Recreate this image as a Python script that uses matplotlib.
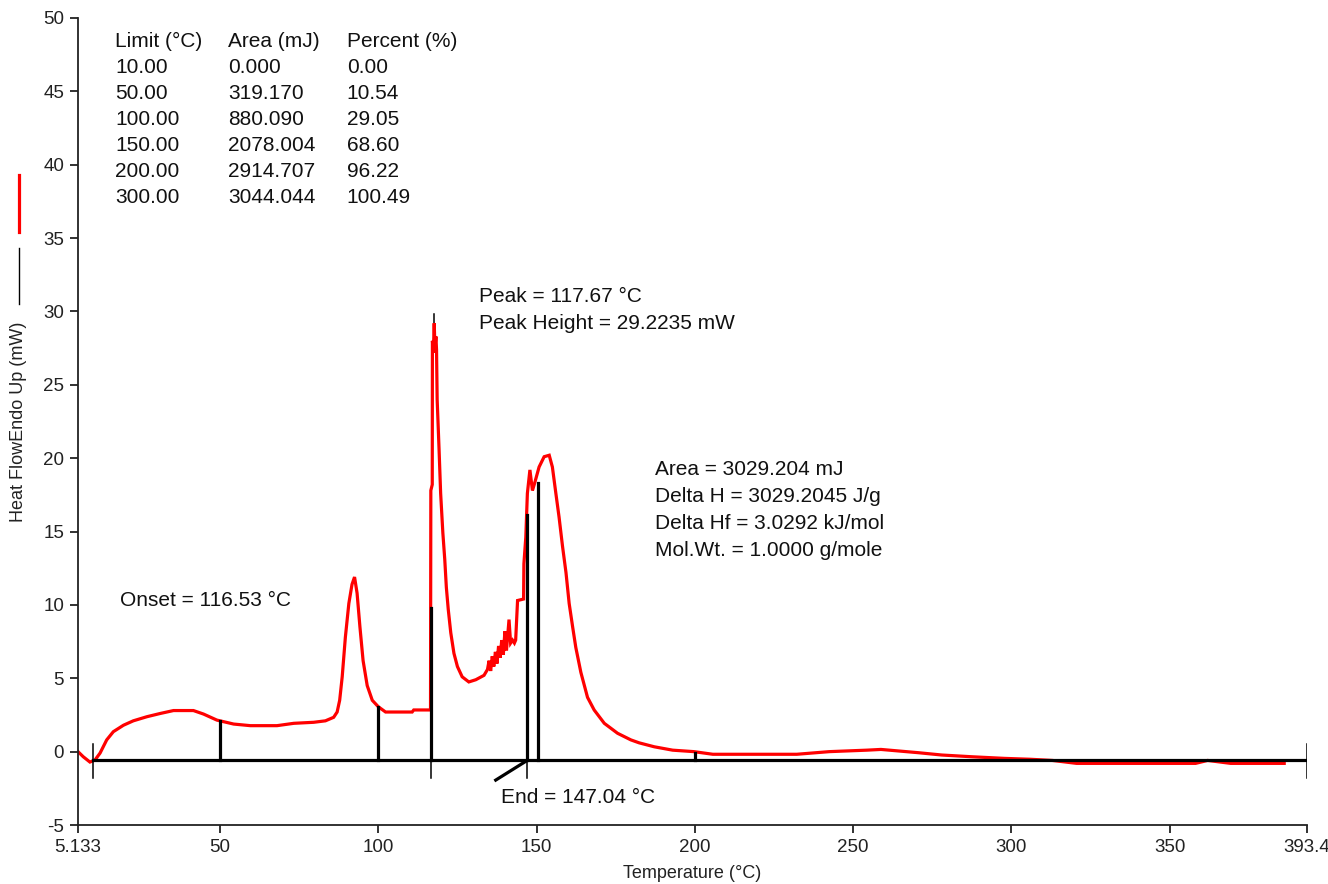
import numpy as np
import matplotlib
matplotlib.use("Agg")
import matplotlib.pyplot as plt
from matplotlib.lines import Line2D

plt.rcParams['font.family'] = ['Liberation Sans', 'DejaVu Sans']
plt.rcParams['axes.unicode_minus'] = False

# heat flow curve (temperature in C, heat flow in mW)
temp = [5.13, 6.8, 8.9, 10.5, 12.1, 14.2, 16.3, 19.5, 22.6, 26.9, 31.1, 35.3, 41.6,
        44.8, 49.0, 54.3, 59.6, 68.0, 73.3, 79.6, 83.3, 85.9, 87.0, 87.8, 88.6,
        89.6, 90.7, 91.7, 92.5, 93.3, 94.2, 95.2, 96.5, 98.1, 100.0, 102.3, 110.7,
        111.2, 116.5, 116.6, 117.05, 117.1, 117.4, 117.67, 117.9, 118.2, 118.4,
        118.6, 119.2, 119.7, 120.4, 121.0, 121.5, 122.1, 122.9, 123.9, 125.0,
        126.5, 128.6, 130.8, 133.4, 134.5, 135.0, 135.5, 136.0, 136.5, 137.0,
        137.5, 138.0, 138.5, 139.0, 139.5, 140.0, 140.5, 141.3, 141.8, 142.4,
        143.0, 143.4, 144.0, 145.9, 146.0, 146.6, 147.1, 147.9, 148.7, 149.4,
        150.8, 152.4, 154.0, 155.0, 156.1, 157.1, 158.2, 159.3, 160.3, 161.4,
        162.4, 164.0, 166.1, 168.2, 171.4, 175.6, 179.8, 182.4, 187.2, 193.0,
        199.7, 205.7, 232.2, 242.5, 254.3, 258.8, 270.5, 278.0, 287.6, 297.9,
        306.0, 313.0, 320.6, 358.2, 362.0, 369.3, 386.2]
heat = [0.0, -0.35, -0.71, -0.57, -0.1, 0.8, 1.36, 1.8, 2.1, 2.38, 2.6, 2.8, 2.8,
        2.56, 2.15, 1.88, 1.77, 1.77, 1.93, 2.0, 2.1, 2.34, 2.7, 3.5, 5.1,
        7.8, 10.1, 11.4, 11.9, 10.8, 8.5, 6.2, 4.5, 3.5, 3.06, 2.7, 2.7,
        2.84, 2.84, 17.8, 18.2, 28.0, 27.2, 29.2, 27.5, 28.3, 27.4,
        24.0, 20.6, 17.6, 14.9, 13.1, 11.2, 9.7, 8.1, 6.7, 5.8,
        5.1, 4.75, 4.9, 5.2, 5.6, 6.2, 5.5, 6.5, 5.8, 6.8,
        6.0, 7.2, 6.4, 7.6, 6.6, 8.2, 6.9, 9.0, 7.4, 7.6,
        7.4, 7.6, 10.3, 10.4, 12.8, 14.6, 17.6, 19.2, 17.8, 18.3,
        19.4, 20.1, 20.2, 19.4, 17.6, 16.0, 14.0, 12.2, 10.1, 8.5,
        7.1, 5.4, 3.7, 2.84, 1.93, 1.25, 0.8, 0.6, 0.33, 0.1,
        0.0, -0.18, -0.18, 0.0, 0.1, 0.15, -0.07, -0.23, -0.35, -0.46,
        -0.52, -0.6, -0.8, -0.8, -0.6, -0.8, -0.8]

baseline_x = [10.0, 393.4]
baseline_y = -0.6

# partial-area limits and onset/end markers with the curve height they reach
divider_x = [50.0, 100.0, 116.53, 147.04, 150.3, 200.0]
divider_top = [2.1, 3.06, 9.8, 16.1, 18.3, -0.1]
crossing_ticks = [10.0, 116.53, 393.4]
end_tick = 147.04
end_tangent_x = [137.1, 147.04]
end_tangent_y = [-1.94, -0.6]
peak_x, peak_top = 117.67, 29.8

limit_col = ["Limit (°C)", "10.00", "50.00", "100.00", "150.00", "200.00", "300.00"]
area_col = ["Area (mJ)", "0.000", "319.170", "880.090", "2078.004", "2914.707", "3044.044"]
pct_col = ["Percent (%)", "0.00", "10.54", "29.05", "68.60", "96.22", "100.49"]

peak_text = ["Peak = 117.67 °C", "Peak Height = 29.2235 mW"]
area_text = ["Area = 3029.204 mJ", "Delta H = 3029.2045 J/g",
             "Delta Hf = 3.0292 kJ/mol", "Mol.Wt. = 1.0000 g/mole"]

xticks = [5.133, 50, 100, 150, 200, 250, 300, 350, 393.4]
xticklabels = ["5.133", "50", "100", "150", "200", "250", "300", "350", "393.4"]
yticks = list(range(-5, 51, 5))

W, H = 1328, 884
fig = plt.figure(figsize=(W / 100, H / 100), dpi=100)
ax = fig.add_axes([78 / W, 1 - 825 / H, (1307 - 78) / W, (825 - 18) / H])
ax.set_xlim(5.133, 393.4)
ax.set_ylim(-5, 50)

ax.plot(temp, heat, color='#ff0000', lw=2.3, solid_joinstyle='miter', zorder=2)

# baseline and markers
ax.plot(baseline_x, [baseline_y, baseline_y], color='black', lw=2.3, zorder=3)
for x, top in zip(divider_x, divider_top):
    ax.plot([x, x], [baseline_y, top], color='black', lw=2.3, zorder=3)
for x in crossing_ticks:
    ax.plot([x, x], [0.55, -1.8], color='black', lw=1.1, zorder=3)
ax.plot([end_tick, end_tick], [baseline_y, -1.8], color='black', lw=1.1, zorder=3)
ax.plot(end_tangent_x, end_tangent_y, color='black', lw=2.3, zorder=3)
ax.plot([peak_x, peak_x], [peak_top, 28.0], color='black', lw=1.1, zorder=1)

fs = 15
row_y = [48.4 - 1.77 * i for i in range(len(limit_col))]
for col, x in zip([limit_col, area_col, pct_col], [16.8, 52.5, 90.0]):
    for s, y in zip(col, row_y):
        ax.text(x, y, s, fontsize=fs, va='center', ha='left', color='#111111')

for i, s in enumerate(peak_text):
    ax.text(131.8, 30.99 - 1.84 * i, s, fontsize=fs, va='center', ha='left', color='#111111')
for i, s in enumerate(area_text):
    ax.text(187.5, 19.2 - 1.84 * i, s, fontsize=fs, va='center', ha='left', color='#111111')
ax.text(18.4, 10.33, "Onset = 116.53 °C", fontsize=fs, va='center', ha='left', color='#111111')
ax.text(138.7, -3.1, "End = 147.04 °C", fontsize=fs, va='center', ha='left', color='#111111')

# axes styling
for side in ['top', 'right']:
    ax.spines[side].set_visible(False)
for side in ['left', 'bottom']:
    ax.spines[side].set_linewidth(1.3)
    ax.spines[side].set_color('#222222')
ax.set_xticks(xticks)
ax.set_xticklabels(xticklabels)
ax.set_yticks(yticks)
ax.tick_params(direction='out', length=6, width=1.3, color='#222222',
               labelsize=13.5, labelcolor='#222222', pad=4)

fig.text(692 / W, 1 - 873 / H, "Temperature (°C)", fontsize=13, ha='center', va='center',
         color='#222222')
fig.text(19 / W, 1 - 422 / H, "Heat FlowEndo Up (mW)", fontsize=13, rotation=90,
         ha='center', va='center', color='#222222')
fig.add_artist(Line2D([19 / W, 19 / W], [1 - 304 / H, 1 - 248 / H], color='black', lw=1.0))
fig.add_artist(Line2D([19 / W, 19 / W], [1 - 232 / H, 1 - 175 / H], color='#ff0000', lw=2.3))

fig.savefig("out.png", dpi=100, facecolor='white')
